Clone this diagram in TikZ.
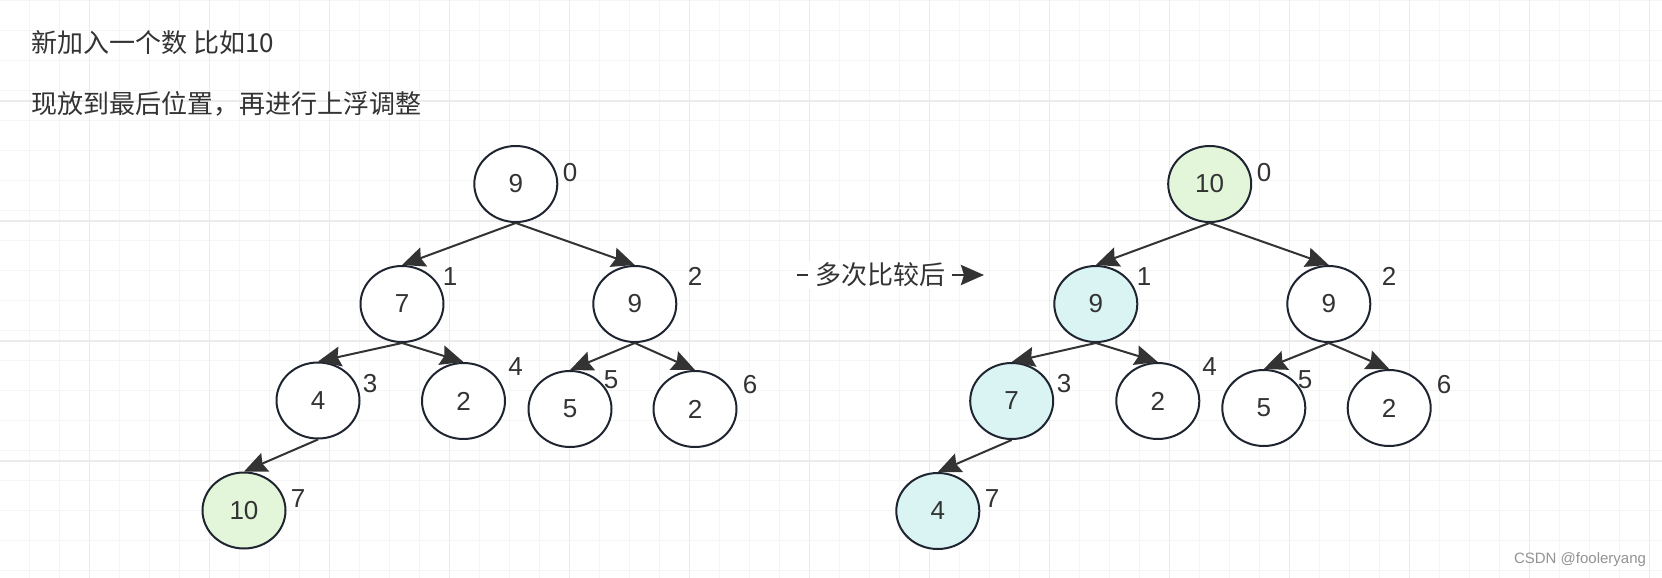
\documentclass[tikz,border=0pt]{standalone}
\usepackage{fontspec}
\setmainfont{Liberation Sans}
\newfontfamily\cjk{Noto Sans CJK SC}
\usepackage{tikz}
\usetikzlibrary{arrows.meta, shapes.geometric}
\definecolor{heapline}{HTML}{1E2430}
\definecolor{heaptext}{HTML}{333333}
\definecolor{heapgreen}{HTML}{E3F6DA}
\definecolor{heapcyan}{HTML}{DAF4F4}
\definecolor{gridminor}{HTML}{F5F5F5}
\definecolor{gridmajor}{HTML}{EBEBEB}

\begin{document}
\begin{tikzpicture}[x=0.5pt, y=-0.5pt,
    hn/.style={ellipse, draw=heapline, fill=#1, line width=1pt,
               minimum width=41.5pt, minimum height=38pt, inner sep=0pt,
               font=\fontsize{13}{15}\selectfont, text=heaptext},
    hn/.default=white,
    idx/.style={font=\fontsize{13}{15}\selectfont, text=heaptext, inner sep=0pt},
    link/.style={-{Stealth[length=11.5pt, width=10pt, inset=1.5pt]}, line width=1pt, draw=heaptext},
    note/.style={font=\cjk\fontsize{13}{16}\selectfont, text=heaptext, anchor=west, inner sep=0pt},
]
    \useasboundingbox (0,0) rectangle (1662,578);
    \fill[white] (0,0) rectangle (1662,578);

    % Grid
    \foreach \gx in {29.3,59.3,...,1662}
        \draw[gridminor, line width=0.75pt] (\gx,0) -- (\gx,578);
    \foreach \gy in {0.7,30.7,...,578}
        \draw[gridminor, line width=0.75pt] (0,\gy) -- (1662,\gy);
    \foreach \gx in {89.3,209.3,...,1662}
        \draw[gridmajor, line width=0.8pt] (\gx,0) -- (\gx,578);
    \foreach \gy in {100.7,220.7,...,578}
        \draw[gridmajor, line width=0.8pt] (0,\gy) -- (1662,\gy);

    % Notes
    \node[note] (line1) at (31,42.5) {新加入一个数 比如10};
    \node[note] (line2) at (31,104) {现放到最后位置，再进行上浮调整};

    % Heap before
    \node[hn] (a0) at (515.8,184) {9};
    \node[hn] (a1) at (402,304) {7};
    \node[hn] (a2) at (634.8,304) {9};
    \node[hn] (a3) at (318,400.5) {4};
    \node[hn] (a4) at (463.5,401) {2};
    \node[hn] (a5) at (570,409) {5};
    \node[hn] (a6) at (695,409) {2};
    \node[hn=heapgreen] (a7) at (244,510.5) {10};

    \draw[link] (a0.south) -- (a1.north);
    \draw[link] (a0.south) -- (a2.north);
    \draw[link] (a1.south) -- (a3.north);
    \draw[link] (a1.south) -- (a4.north);
    \draw[link] (a2.south) -- (a5.north);
    \draw[link] (a2.south) -- (a6.north);
    \draw[link] (a3.south) -- (a7.north);

    \node[idx] at (570,173) {0};
    \node[idx] at (450,276.5) {1};
    \node[idx] at (695,276.5) {2};
    \node[idx] at (370,384) {3};
    \node[idx] at (515.7,367) {4};
    \node[idx] at (611,380) {5};
    \node[idx] at (750,385) {6};
    \node[idx] at (298,498.5) {7};

    % Middle arrow
    \coordinate (cmpL) at (797,275);
    \coordinate (cmpR) at (984,275);
    \draw[link, line width=1.4pt] (cmpL) -- node[pos=0.444, fill=white, inner xsep=3.5pt, inner ysep=1pt,
        font=\cjk\fontsize{13}{16}\selectfont, text=heaptext] (cmp) {多次比较后} (cmpR);

    % Heap after
    \node[hn=heapgreen] (b0) at (1209.7,184) {10};
    \node[hn=heapcyan] (b1) at (1095.8,304) {9};
    \node[hn] (b2) at (1328.8,304) {9};
    \node[hn=heapcyan] (b3) at (1011.7,401) {7};
    \node[hn] (b4) at (1157.8,401) {2};
    \node[hn] (b5) at (1263.8,408) {5};
    \node[hn] (b6) at (1389.2,408) {2};
    \node[hn=heapcyan] (b7) at (937.8,511) {4};

    \draw[link] (b0.south) -- (b1.north);
    \draw[link] (b0.south) -- (b2.north);
    \draw[link] (b1.south) -- (b3.north);
    \draw[link] (b1.south) -- (b4.north);
    \draw[link] (b2.south) -- (b5.north);
    \draw[link] (b2.south) -- (b6.north);
    \draw[link] (b3.south) -- (b7.north);

    \node[idx] at (1264,173) {0};
    \node[idx] at (1144,276.5) {1};
    \node[idx] at (1389,276.5) {2};
    \node[idx] at (1064,384) {3};
    \node[idx] at (1209.7,367) {4};
    \node[idx] at (1305,380) {5};
    \node[idx] at (1444,385) {6};
    \node[idx] at (992,498.5) {7};

    % Watermark
    \node[font=\fontsize{7.5}{9}\selectfont, text=gray!85] (mark) at (1580,560) {CSDN @fooleryang};
\end{tikzpicture}
\end{document}
